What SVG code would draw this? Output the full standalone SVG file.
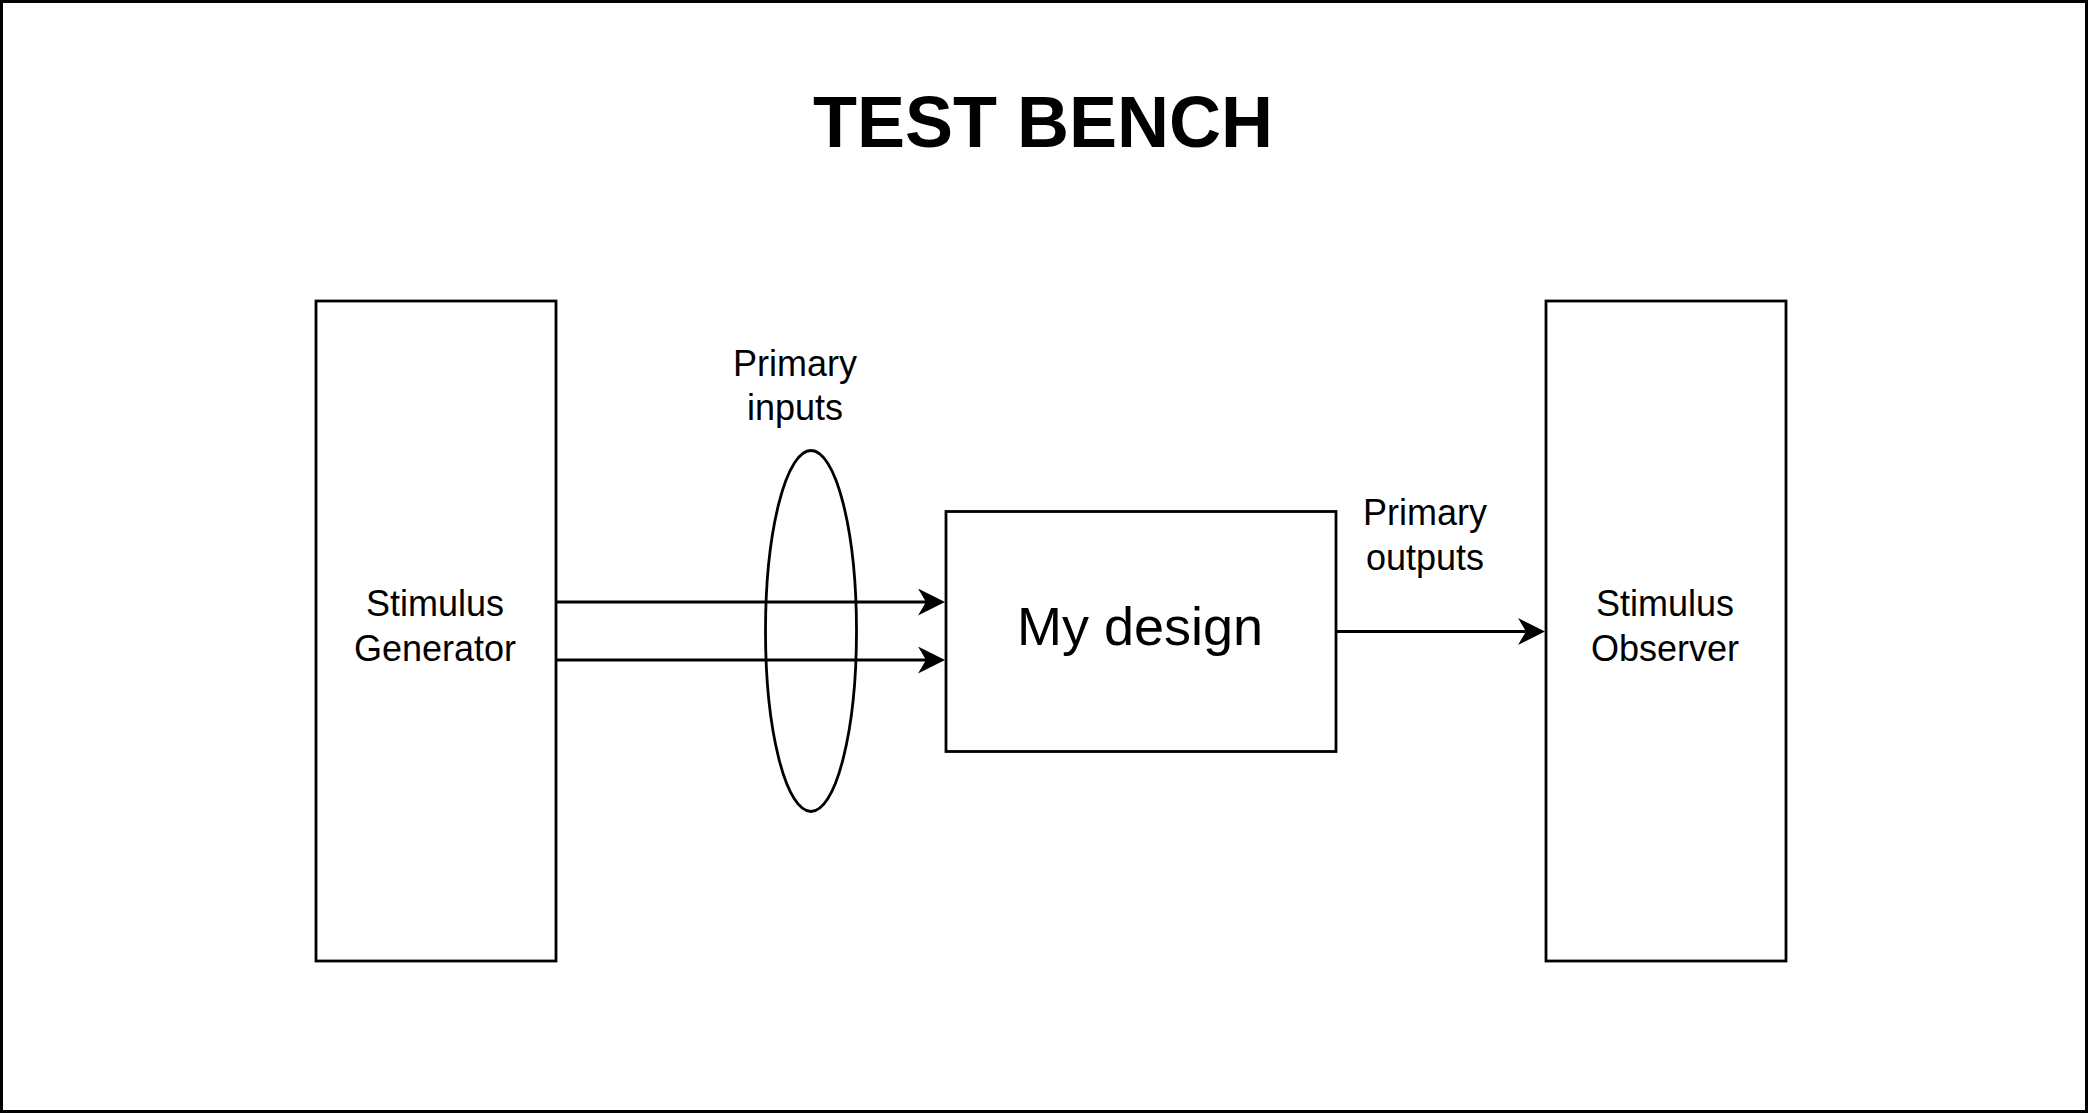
<svg xmlns="http://www.w3.org/2000/svg" width="2088" height="1113" viewBox="0 0 2088 1113">
  <style>
    .box { fill: #ffffff; stroke: #000000; stroke-width: 2.8; }
    .wire { fill: none; stroke: #000000; stroke-width: 2.8; }
    .lbl { font-family: "Liberation Sans", Arial, Helvetica, sans-serif; font-size: 36px; fill: #000000; text-anchor: middle; }
    .big { font-size: 54px; }
    .title { font-family: "Liberation Sans", Arial, Helvetica, sans-serif; font-size: 72px; font-weight: bold; fill: #000000; text-anchor: middle; }
  </style>
  <defs>
    <marker id="arrow" markerUnits="userSpaceOnUse" markerWidth="28" markerHeight="28" viewBox="0 0 28 28" refX="17" refY="13.5" orient="auto">
      <path d="M0,0 L27,13.5 L0,27 L8,13.5 Z" fill="#000000"/>
    </marker>
  </defs>
  <rect x="0" y="0" width="2088" height="1113" fill="#ffffff"/>
  <rect id="frame" x="1.5" y="1.5" width="2085" height="1110" fill="none" stroke="#000000" stroke-width="3"/>
  <g id="title">
    <text class="title" x="1043" y="147">TEST BENCH</text>
  </g>
  <g id="generator">
    <rect class="box" x="316" y="301" width="240" height="660"/>
    <text class="lbl" x="435" y="616">Stimulus</text>
    <text class="lbl" x="435" y="661">Generator</text>
  </g>
  <g id="design">
    <rect class="box" x="946" y="511.5" width="390" height="240"/>
    <text class="lbl big" x="1140" y="645">My design</text>
  </g>
  <g id="observer">
    <rect class="box" x="1546" y="301" width="240" height="660"/>
    <text class="lbl" x="1665" y="616">Stimulus</text>
    <text class="lbl" x="1665" y="661">Observer</text>
  </g>
  <g id="inputs-label">
    <text class="lbl" x="795" y="376">Primary</text>
    <text class="lbl" x="795" y="420">inputs</text>
  </g>
  <g id="outputs-label">
    <text class="lbl" x="1425" y="525">Primary</text>
    <text class="lbl" x="1425" y="570">outputs</text>
  </g>
  <g id="connectors">
    <line class="wire" x1="557" y1="602" x2="935" y2="602" marker-end="url(#arrow)"/>
    <line class="wire" x1="557" y1="660" x2="935" y2="660" marker-end="url(#arrow)"/>
    <line class="wire" x1="1337" y1="631.5" x2="1535" y2="631.5" marker-end="url(#arrow)"/>
  </g>
  <g id="bundle">
    <ellipse class="wire" cx="811" cy="631" rx="45.5" ry="180.5"/>
  </g>
</svg>
